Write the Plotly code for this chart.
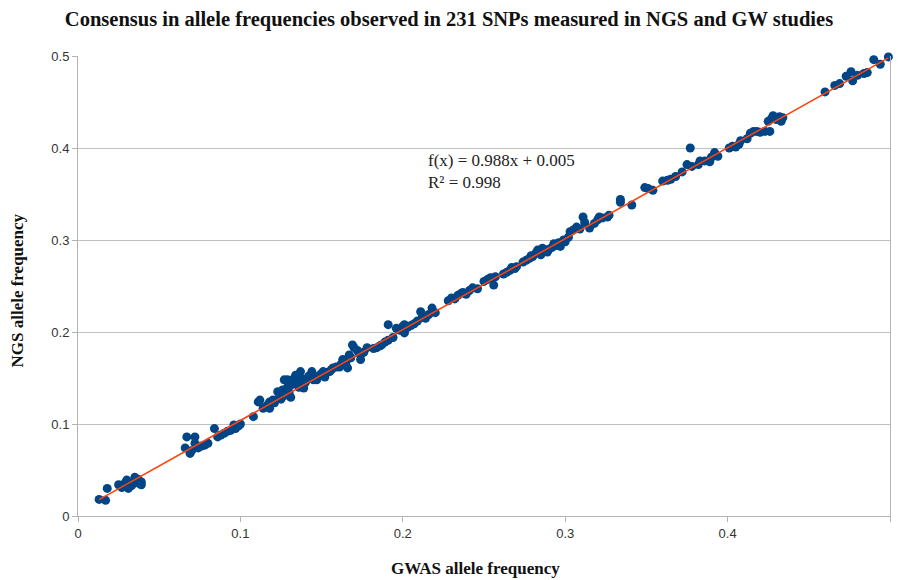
import plotly.graph_objects as go

# Allele frequencies of 231 SNPs: GWAS estimate vs NGS estimate
gwas_freq = [
    0.013, 0.017, 0.018, 0.025, 0.027, 0.029, 0.030, 0.031, 0.033, 0.034,
    0.035, 0.036, 0.037, 0.038, 0.039, 0.039,
    0.066, 0.067, 0.069, 0.070, 0.072, 0.072, 0.074, 0.076, 0.078, 0.080,
    0.084, 0.086, 0.088, 0.090, 0.092, 0.094, 0.096, 0.097, 0.099, 0.100,
    0.108, 0.111,
    0.112, 0.114, 0.116, 0.117, 0.118, 0.118, 0.120, 0.121, 0.123, 0.124,
    0.125, 0.126, 0.127, 0.127, 0.129, 0.129, 0.130, 0.131, 0.131, 0.132,
    0.133, 0.134, 0.134, 0.135, 0.136, 0.137, 0.138, 0.139, 0.140, 0.141,
    0.142, 0.143, 0.144, 0.144, 0.145, 0.146, 0.147, 0.148, 0.149, 0.150,
    0.151, 0.152, 0.153, 0.155, 0.156, 0.157, 0.159, 0.161, 0.162, 0.163,
    0.165, 0.166, 0.167, 0.168, 0.169, 0.170, 0.172, 0.173, 0.174, 0.174,
    0.176, 0.178,
    0.182, 0.184, 0.186, 0.187, 0.189, 0.191, 0.191, 0.194, 0.196, 0.198,
    0.200, 0.201, 0.201, 0.203, 0.205, 0.207, 0.209, 0.211, 0.212, 0.214,
    0.216, 0.218, 0.220, 0.228, 0.230, 0.232, 0.234, 0.236, 0.237, 0.239,
    0.241, 0.243, 0.246,
    0.250, 0.252, 0.254, 0.256, 0.257, 0.262, 0.264, 0.266, 0.267, 0.269,
    0.270, 0.274, 0.276, 0.278, 0.279, 0.280, 0.282, 0.283, 0.284, 0.285,
    0.286, 0.288, 0.289, 0.290, 0.292, 0.293, 0.295, 0.296, 0.297, 0.299,
    0.300, 0.302, 0.303, 0.305, 0.307,
    0.309, 0.311, 0.312, 0.315, 0.318, 0.320, 0.321, 0.323, 0.326, 0.327,
    0.334, 0.334, 0.341, 0.349, 0.351, 0.354, 0.360, 0.363, 0.365, 0.368,
    0.372, 0.375, 0.377, 0.378, 0.382, 0.383, 0.386, 0.389, 0.390, 0.392,
    0.393, 0.394,
    0.401, 0.403, 0.405, 0.407, 0.408, 0.412, 0.414, 0.416, 0.418, 0.420,
    0.423, 0.425, 0.426, 0.427, 0.428, 0.430, 0.432, 0.433, 0.434, 0.460,
    0.466, 0.469, 0.473, 0.476, 0.477, 0.480, 0.484, 0.486, 0.490, 0.494,
    0.499,
]

ngs_freq = [
    0.018, 0.017, 0.030, 0.034, 0.031, 0.036, 0.039, 0.030, 0.033, 0.036,
    0.042, 0.037, 0.040, 0.035, 0.037, 0.034,
    0.074, 0.086, 0.068, 0.071, 0.086, 0.079, 0.074, 0.076, 0.077, 0.079,
    0.095, 0.086, 0.088, 0.090, 0.092, 0.093, 0.099, 0.095, 0.098, 0.100,
    0.108, 0.124,
    0.126, 0.117, 0.119, 0.121, 0.117, 0.124, 0.126, 0.123, 0.135, 0.129,
    0.127, 0.137, 0.131, 0.148, 0.148, 0.140, 0.134, 0.142, 0.129, 0.148,
    0.144, 0.151, 0.153, 0.146, 0.140, 0.157, 0.149, 0.139, 0.145, 0.148,
    0.152, 0.150, 0.157, 0.153, 0.148, 0.150, 0.148, 0.152, 0.153, 0.155,
    0.157, 0.151, 0.156, 0.157, 0.159, 0.161, 0.162, 0.162, 0.165, 0.170,
    0.167, 0.161, 0.175, 0.172, 0.186, 0.183, 0.180, 0.177, 0.175, 0.170,
    0.178, 0.183,
    0.182, 0.183, 0.185, 0.186, 0.189, 0.191, 0.208, 0.194, 0.204, 0.202,
    0.206, 0.208, 0.199, 0.205, 0.207, 0.209, 0.212, 0.222, 0.216, 0.215,
    0.219, 0.226, 0.221, 0.234, 0.237, 0.236, 0.240, 0.242, 0.243, 0.241,
    0.245, 0.248, 0.247,
    0.255, 0.257, 0.259, 0.251, 0.260, 0.263, 0.265, 0.267, 0.270, 0.269,
    0.271, 0.276, 0.278, 0.280, 0.283, 0.282, 0.286, 0.289, 0.287, 0.284,
    0.291, 0.289, 0.287, 0.290, 0.292, 0.296, 0.294, 0.297, 0.293, 0.300,
    0.298, 0.303, 0.309, 0.311, 0.314,
    0.312, 0.325, 0.319, 0.313, 0.318, 0.322, 0.325, 0.324, 0.325, 0.327,
    0.341, 0.344, 0.338, 0.357, 0.356, 0.354, 0.364, 0.365, 0.366, 0.369,
    0.374, 0.382, 0.400, 0.380, 0.382, 0.386, 0.386, 0.385, 0.390, 0.395,
    0.392, 0.391,
    0.400, 0.402, 0.401, 0.404, 0.408, 0.410, 0.416, 0.418, 0.418, 0.417,
    0.418, 0.429, 0.418, 0.432, 0.435, 0.431, 0.434, 0.429, 0.433, 0.461,
    0.468, 0.470, 0.478, 0.483, 0.473, 0.479, 0.481, 0.482, 0.496, 0.491,
    0.499,
]

# Linear trend line parameters
slope = 0.988
intercept = 0.005
r_squared = 0.998

x_ticks = [0, 0.1, 0.2, 0.3, 0.4, 0.5]
y_ticks = [0, 0.1, 0.2, 0.3, 0.4, 0.5]

trend_x = [min(gwas_freq), max(gwas_freq)]
trend_y = [slope * v + intercept for v in trend_x]

serif = "Liberation Serif"
narrow = "Liberation Sans Narrow, Liberation Sans, Arial Narrow, sans-serif"

fig = go.Figure()
fig.add_trace(go.Scatter(
    x=gwas_freq, y=ngs_freq, mode="markers",
    marker=dict(color="#004586", size=9, line=dict(width=0)),
    showlegend=False, cliponaxis=False,
))
fig.add_trace(go.Scatter(
    x=trend_x, y=trend_y, mode="lines",
    line=dict(color="#ff420e", width=1.6),
    showlegend=False, cliponaxis=False,
))

# Regression equation
fig.add_annotation(
    x=0.214, y=0.375, xref="x", yref="y",
    text=f"f(x) = {slope}x + {intercept}<br>R² = {r_squared}",
    showarrow=False, xanchor="left", yanchor="middle", align="left",
    font=dict(family=serif, size=17, color="#222222"),
)

# Axis titles, placed in paper coordinates below and left of the plot area
fig.add_annotation(
    x=0.489, y=-0.115, xref="paper", yref="paper",
    text="<b>GWAS allele frequency</b>", showarrow=False,
    xanchor="center", yanchor="middle",
    font=dict(family=serif, size=17, color="#111111"),
)
fig.add_annotation(
    x=-0.074, y=0.49, xref="paper", yref="paper",
    text="<b>NGS allele frequency</b>", showarrow=False, textangle=-90,
    xanchor="center", yanchor="middle",
    font=dict(family=serif, size=17, color="#111111"),
)

fig.update_layout(
    width=898, height=580,
    margin=dict(l=78, r=8, t=56, b=64),
    paper_bgcolor="white", plot_bgcolor="white",
    title=dict(
        text="<b>Consensus in allele frequencies observed in 231 SNPs measured in NGS and GW studies</b>",
        x=0.5, xanchor="center", y=0.968, yanchor="middle",
        font=dict(family=serif, size=20.5, color="#111111"),
    ),
    xaxis=dict(
        range=[0, 0.5], tickvals=x_ticks, ticktext=[f"{v:g}" for v in x_ticks],
        showgrid=False, zeroline=False, automargin=False,
        showline=True, linecolor="#b3b3b3", linewidth=1,
        ticks="outside", ticklen=5, tickcolor="#b3b3b3",
        tickfont=dict(family=narrow, size=13, color="#333333"),
    ),
    yaxis=dict(
        range=[0, 0.5], tickvals=y_ticks, ticktext=[f"{v:g}" for v in y_ticks],
        showgrid=True, gridcolor="#c0c0c0", gridwidth=1, zeroline=False,
        automargin=False,
        showline=True, linecolor="#b3b3b3", linewidth=1, mirror=True,
        ticks="outside", ticklen=5, tickcolor="#b3b3b3",
        tickfont=dict(family=narrow, size=13, color="#333333"),
    ),
)

fig.write_html("out.html")
